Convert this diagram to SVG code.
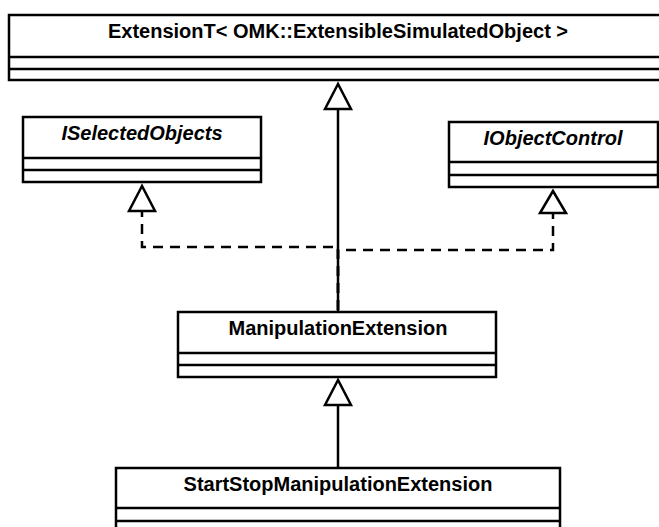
<svg xmlns="http://www.w3.org/2000/svg" width="659" height="527" viewBox="0 0 659 527">
<style>
.box{fill:#fff;stroke:#000;stroke-width:2.5}
.div{stroke:#000;stroke-width:2.5;fill:none}
.t{font-family:"Liberation Sans",Arial,sans-serif;font-size:20px;font-weight:bold;text-anchor:middle;fill:#000}
.i{font-style:italic}
.edge{stroke:#000;stroke-width:2.5;fill:none}
.dash{stroke-dasharray:10,7}
.head{fill:#fff;stroke:#000;stroke-width:2.5}
</style>
<rect width="659" height="527" fill="#fff"/>
<g id="connectors">
<path class="edge dash" d="M338,310 V247 H142 V211"/>
<path class="edge dash" d="M338,310 V250 H553 V213"/>
<path class="edge" d="M338,312 V109"/>
<polygon class="head" points="338,84 325,109 351,109"/>
<polygon class="head" points="142,186 129,211 155,211"/>
<polygon class="head" points="553,191 540,213 566,213"/>
<path class="edge" d="M338,468 V405"/>
<polygon class="head" points="338,380 325,405 351,405"/>
</g>
<g id="ExtensionT">
<rect class="box" x="9" y="15" width="658" height="65"/>
<path class="div" d="M9,57 H667 M9,69 H667"/>
<text class="t" x="338" y="38">ExtensionT&lt; OMK::ExtensibleSimulatedObject &gt;</text>
</g>
<g id="ISelectedObjects">
<rect class="box" x="23" y="117" width="238" height="65"/>
<path class="div" d="M23,158 H261 M23,170 H261"/>
<text class="t i" x="142" y="140">ISelectedObjects</text>
</g>
<g id="IObjectControl">
<rect class="box" x="449" y="122" width="209" height="65"/>
<path class="div" d="M449,162 H658 M449,175 H658"/>
<text class="t i" x="553" y="145">IObjectControl</text>
</g>
<g id="ManipulationExtension">
<rect class="box" x="178" y="312" width="318" height="65"/>
<path class="div" d="M178,353 H496 M178,365 H496"/>
<text class="t" x="338" y="335">ManipulationExtension</text>
</g>
<g id="StartStopManipulationExtension">
<rect class="box" x="116" y="468" width="444" height="70"/>
<path class="div" d="M116,508 H560 M116,521 H560"/>
<text class="t" x="338" y="491">StartStopManipulationExtension</text>
</g>
</svg>
